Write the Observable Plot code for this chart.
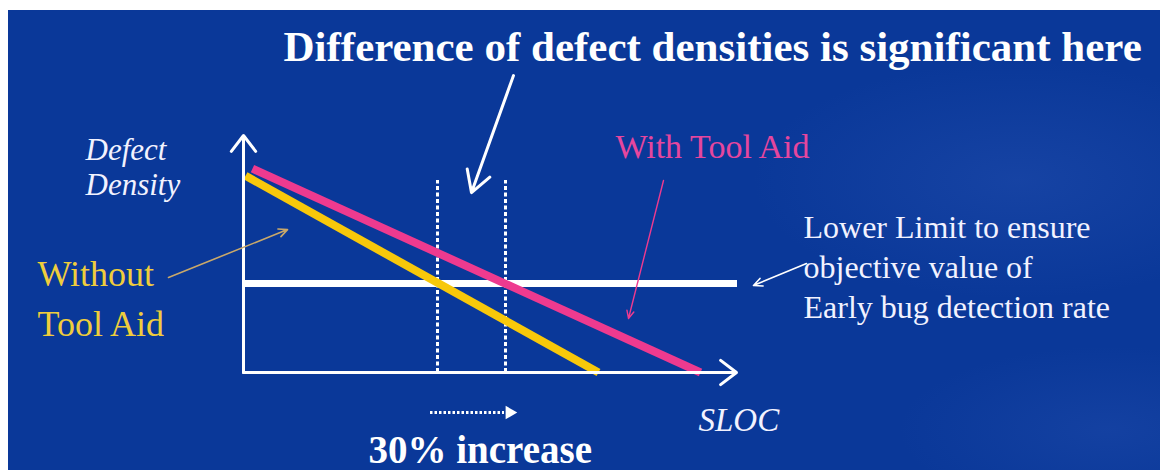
<!DOCTYPE html>
<html>
<head>
<meta charset="utf-8">
<script src="https://cdn.jsdelivr.net/npm/d3@7"></script>
<script src="https://cdn.jsdelivr.net/npm/@observablehq/plot@0.6"></script>
<style>
  html, body { margin: 0; padding: 0; background: #ffffff; width: 1160px; height: 470px; overflow: hidden; }
  #chart {
    position: absolute; left: 8px; top: 10px; width: 1152px; height: 460px;
    background:
      radial-gradient(ellipse 380px 170px at 1010px 170px, rgba(70,110,205,0.20), rgba(0,0,0,0) 70%),
      radial-gradient(ellipse 300px 120px at 1100px 420px, rgba(70,110,205,0.16), rgba(0,0,0,0) 70%),
      #0a3899;
  }
  #chart svg { display: block; }
</style>
</head>
<body>
<div id="chart"></div>
<script>
// ---- data (SLOC on x, defect density on y, arbitrary units) ----
const seriesNames = ["With Tool Aid", "Without Tool Aid"];
const withToolSloc = [1.8, 91.4];
const withToolDensity = [86, 0];
const withoutToolSloc = [0.4, 71];
const withoutToolDensity = [83, 0];
const lowerLimitDensity = [37.6];
const lowerLimitSloc = [0, 98.8];
const crossingSloc = [38.8, 52.4];      // where each line meets the lower limit
const crossingTop = [81];
const xAxisExtent = [0, 98.6];
const yAxisExtent = [0, 100];

const titleText = "Difference of defect densities is significant here";
const yLabel = "Defect\nDensity";
const xLabel = "SLOC";
const withLabel = "With Tool Aid";
const withoutLabel = "Without\nTool Aid";
const limitLabel = "Lower Limit to ensure\nobjective value of\nEarly bug detection rate";
const increaseLabel = "30% increase";

const pink = "#ee3a8f";
const yellow = "#f8c80a";
const serif = "'Liberation Serif', 'DejaVu Serif', serif";

const rows = [
  ...withToolSloc.map((s, i) => ({series: seriesNames[0], sloc: s, density: withToolDensity[i]})),
  ...withoutToolSloc.map((s, i) => ({series: seriesNames[1], sloc: s, density: withoutToolDensity[i]}))
];

const chart = Plot.plot({
  width: 1152,
  height: 460,
  marginLeft: 235,
  marginRight: 417,
  marginTop: 125,
  marginBottom: 98,
  x: {domain: [0, 100], axis: null},
  y: {domain: [0, 100], axis: null},
  color: {domain: seriesNames, range: [pink, yellow]},
  style: {background: "transparent", color: "white", overflow: "visible"},
  marks: [
    // lower limit
    Plot.ruleY(lowerLimitDensity, {x1: lowerLimitSloc[0], x2: lowerLimitSloc[1], stroke: "white", strokeWidth: 7}),
    // dashed verticals
    Plot.ruleX(crossingSloc, {y1: 0, y2: crossingTop[0], stroke: "white", strokeWidth: 3, strokeDasharray: "4,2.5"}),
    // series
    Plot.line(rows, {x: "sloc", y: "density", z: "series", stroke: "series", strokeWidth: 8, strokeLinecap: "butt"}),
    // axes as arrows
    Plot.arrow([0], {x1: 0, x2: 0, y1: yAxisExtent[0], y2: yAxisExtent[1], stroke: "white", strokeWidth: 3, headLength: 10, headAngle: 75}),
    Plot.arrow([0], {x1: xAxisExtent[0], x2: xAxisExtent[1], y1: 0, y2: 0, stroke: "white", strokeWidth: 3, headLength: 10, headAngle: 75}),
    // pointers
    Plot.arrow([0], {x1: 54, y1: 125.3, x2: 45.6, y2: 75.9, stroke: "white", strokeWidth: 3, headLength: 12, headAngle: 60}),
    Plot.arrow([0], {x1: -15, y1: 40.1, x2: 8.8, y2: 60.3, stroke: "#c9a86a", strokeWidth: 1.6, headLength: 9, headAngle: 50}),
    Plot.arrow([0], {x1: 84, y1: 81, x2: 77, y2: 22.8, stroke: pink, strokeWidth: 1.4, headLength: 9, headAngle: 50}),
    Plot.arrow([0], {x1: 112.6, y1: 46, x2: 102, y2: 36.7, stroke: "white", strokeWidth: 1.6, headLength: 9, headAngle: 50}),
    // 30% dotted arrow
    Plot.ruleY([-16.9], {x1: 37.4, x2: 52.2, stroke: "white", strokeWidth: 3, strokeDasharray: "2.5,2"}),
    Plot.dot([0], {x: 53.2, y: -16.9, symbol: "triangle", r: 5, rotate: 90, fill: "white", stroke: "none"}),
    // texts
    Plot.text([titleText], {x: 8, y: 131.6, text: d => d, textAnchor: "start", lineAnchor: "bottom", fill: "white", fontSize: 43, fontWeight: "bold", fontFamily: serif}),
    Plot.text([yLabel], {x: -31.6, y: 74.7, text: d => d, textAnchor: "start", lineAnchor: "bottom", lineHeight: 1.15, fill: "#f2f2ff", fontSize: 31, fontStyle: "italic", fontFamily: serif}),
    Plot.text([withLabel], {x: 74.4, y: 90.3, text: d => d, textAnchor: "start", lineAnchor: "bottom", fill: "#e6469e", fontSize: 34, fontFamily: serif}),
    Plot.text([withoutLabel], {x: -41.2, y: 15.6, text: d => d, textAnchor: "start", lineAnchor: "bottom", lineHeight: 1.37, fill: "#efcd3c", fontSize: 36, fontFamily: serif}),
    Plot.text([limitLabel], {x: 112, y: 22.8, text: d => d, textAnchor: "start", lineAnchor: "bottom", lineHeight: 1.25, fill: "#f2f2ff", fontSize: 32, fontFamily: serif}),
    Plot.text([xLabel], {x: 91, y: -24.5, text: d => d, textAnchor: "start", lineAnchor: "bottom", fill: "#f2f2ff", fontSize: 33, fontStyle: "italic", fontFamily: serif}),
    Plot.text([increaseLabel], {x: 25, y: -38, text: d => d, textAnchor: "start", lineAnchor: "bottom", fill: "white", fontSize: 39, fontWeight: "bold", fontFamily: serif})
  ]
});

document.getElementById("chart").appendChild(chart);
</script>
</body>
</html>
